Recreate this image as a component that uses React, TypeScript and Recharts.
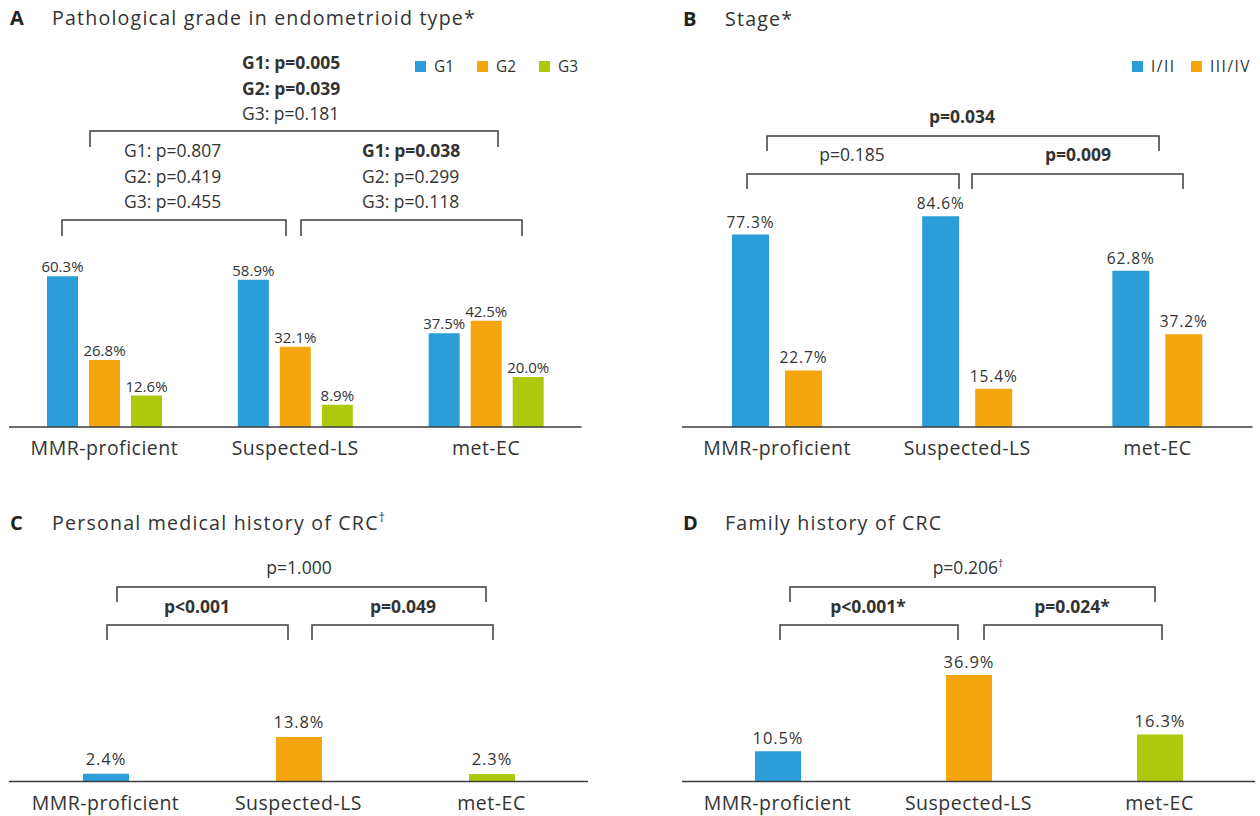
import React from "react";
import { BarChart, Bar, XAxis, YAxis, LabelList, Cell } from "recharts";

// ---- data ----
const groups = ["MMR-proficient", "Suspected-LS", "met-EC"];

// A: pathological grade in endometrioid type (%)
const gradeG1 = [60.3, 58.9, 37.5];
const gradeG2 = [26.8, 32.1, 42.5];
const gradeG3 = [12.6, 8.9, 20.0];

// B: stage (%)
const stageEarly = [77.3, 84.6, 62.8];
const stageLate = [22.7, 15.4, 37.2];

// C / D: CRC history (%)
const personalCrc = [2.4, 13.8, 2.3];
const familyCrc = [10.5, 36.9, 16.3];

// p-value annotations
const gradePAll = ["G1: p=0.005", "G2: p=0.039", "G3: p=0.181"];
const gradePAllBold = [true, true, false];
const gradePLeft = ["G1: p=0.807", "G2: p=0.419", "G3: p=0.455"];
const gradePRight = ["G1: p=0.038", "G2: p=0.299", "G3: p=0.118"];
const gradePRightBold = [true, false, false];
const stageP = { all: "p=0.034", left: "p=0.185", right: "p=0.009" };
const personalP = { all: "p=1.000", left: "p<0.001", right: "p=0.049" };
const familyP = { all: "p=0.206", left: "p<0.001*", right: "p=0.024*" };

// ---- styles ----
const FONT = '"Open Sans", "Noto Sans", sans-serif';
const INK = "#333333";
const LINE = "#3d3d3d";
const BLUE = "#2b9ed9";
const ORANGE = "#f5a50e";
const GREEN = "#aec90b";

const gradeData = groups.map((group, i) => ({
  group,
  g1: gradeG1[i],
  g2: gradeG2[i],
  g3: gradeG3[i],
}));
const stageData = groups.map((group, i) => ({
  group,
  early: stageEarly[i],
  late: stageLate[i],
}));
const personalData = groups.map((group, i) => ({ group, value: personalCrc[i] }));
const familyData = groups.map((group, i) => ({ group, value: familyCrc[i] }));

type Series = { key: string; color: string };

const GroupTick = (props: any) => {
  const { x, y, payload } = props;
  return (
    <text
      x={x}
      y={y + 28}
      textAnchor="middle"
      fontFamily={FONT}
      fontSize={19.5}
      letterSpacing={0.5}
      fill={INK}
    >
      {payload.value}
    </text>
  );
};

const valueLabel = (offset: number, size: number, spacing: number) => (p: any) => {
  const vb = p.viewBox || p;
  const x = Number(vb.x) + Number(vb.width) / 2;
  const y = Number(vb.y) - offset;
  return (
    <text
      x={x}
      y={y}
      textAnchor="middle"
      fontFamily={FONT}
      fontSize={size}
      letterSpacing={spacing}
      fill={INK}
    >
      {Number(p.value).toFixed(1)}%
    </text>
  );
};

type PanelProps = {
  data: any[];
  series: Series[];
  plotLeft: number;
  plotRight: number;
  baseline: number;
  pxPerUnit: number;
  yMax: number;
  barSize: number;
  barGap: number;
  labelOffset: number;
  labelSize: number;
  labelSpacing: number;
  cellColors?: string[];
};

function BarPanel(props: PanelProps) {
  const {
    data, series, plotLeft, plotRight, baseline, pxPerUnit, yMax,
    barSize, barGap, labelOffset, labelSize, labelSpacing, cellColors,
  } = props;
  const plotHeight = pxPerUnit * yMax;
  const axisHeight = 40;
  return (
    <div style={{ position: "absolute", left: 0, top: 0 }}>
      <BarChart
        width={1260}
        height={baseline + axisHeight}
        data={data}
        barGap={barGap}
        margin={{ top: baseline - plotHeight, right: 1260 - plotRight, bottom: 0, left: plotLeft }}
      >
        <XAxis
          dataKey="group"
          height={axisHeight}
          interval={0}
          tickLine={false}
          tickSize={0}
          tickMargin={0}
          axisLine={{ stroke: LINE, strokeWidth: 1.6 }}
          tick={GroupTick}
        />
        <YAxis hide domain={[0, yMax]} />
        {series.map((s) => (
          <Bar key={s.key} dataKey={s.key} fill={s.color} barSize={barSize} isAnimationActive={false}>
            {cellColors && cellColors.map((c, i) => <Cell key={i} fill={c} />)}
            <LabelList dataKey={s.key} content={valueLabel(labelOffset, labelSize, labelSpacing)} />
          </Bar>
        ))}
      </BarChart>
    </div>
  );
}

// square bracket hanging down from y
const Bracket = ({ x1, x2, y, drop }: { x1: number; x2: number; y: number; drop: number }) => (
  <path d={`M${x1},${y + drop}V${y}H${x2}V${y + drop}`} fill="none" stroke={LINE} strokeWidth={1.5} />
);

const PText = ({ x, y, text, bold, anchor = "start", size = 17.5, dagger = false }: any) => (
  <text
    x={x}
    y={y}
    textAnchor={anchor}
    fontFamily={FONT}
    fontSize={size}
    fontWeight={bold ? 700 : 400}
    fill={INK}
  >
    {text}
    {dagger && (
      <tspan fontSize={size * 0.6} dy={-7}>
        †
      </tspan>
    )}
  </text>
);

const Title = ({ x, y, letter, text, dagger = false }: any) => (
  <g fontFamily={FONT} fill="#222">
    <text x={x} y={y} fontSize={20} fontWeight={700}>
      {letter}
    </text>
    <text x={x + 42} y={y} fontSize={19.6} letterSpacing={1.2} fill={INK}>
      {text}
      {dagger && (
        <tspan fontSize={12} dy={-8}>
          †
        </tspan>
      )}
    </text>
  </g>
);

const LegendItem = ({ x, y, color, label, spacing = 0 }: any) => (
  <g>
    <rect x={x} y={y - 11} width={11} height={11} fill={color} />
    <text x={x + 19} y={y} fontFamily={FONT} fontSize={15.4} letterSpacing={spacing} fill={INK}>
      {label}
    </text>
  </g>
);

export default function App() {
  return (
    <div
      style={{
        position: "absolute",
        left: 0,
        top: 0,
        width: 1260,
        height: 816,
        overflow: "hidden",
        background: "#fff",
      }}
    >
      <BarPanel
        data={gradeData}
        series={[
          { key: "g1", color: BLUE },
          { key: "g2", color: ORANGE },
          { key: "g3", color: GREEN },
        ]}
        plotLeft={9}
        plotRight={581.5}
        baseline={427}
        pxPerUnit={2.5}
        yMax={100}
        barSize={31}
        barGap={11}
        labelOffset={4}
        labelSize={15}
        labelSpacing={0}
      />
      <BarPanel
        data={stageData}
        series={[
          { key: "early", color: BLUE },
          { key: "late", color: ORANGE },
        ]}
        plotLeft={682}
        plotRight={1252.5}
        baseline={427}
        pxPerUnit={2.49}
        yMax={100}
        barSize={37}
        barGap={16}
        labelOffset={7}
        labelSize={15.5}
        labelSpacing={0.9}
      />
      <BarPanel
        data={personalData}
        series={[{ key: "value", color: BLUE }]}
        cellColors={[BLUE, ORANGE, GREEN]}
        plotLeft={9}
        plotRight={588}
        baseline={781.5}
        pxPerUnit={3.23}
        yMax={50}
        barSize={46}
        barGap={0}
        labelOffset={9}
        labelSize={16.5}
        labelSpacing={0.9}
      />
      <BarPanel
        data={familyData}
        series={[{ key: "value", color: BLUE }]}
        cellColors={[BLUE, ORANGE, GREEN]}
        plotLeft={682}
        plotRight={1255}
        baseline={781.5}
        pxPerUnit={2.886}
        yMax={50}
        barSize={46}
        barGap={0}
        labelOffset={7.5}
        labelSize={16.5}
        labelSpacing={0.9}
      />

      <svg
        width={1260}
        height={816}
        style={{ position: "absolute", left: 0, top: 0, pointerEvents: "none" }}
      >
        {/* A */}
        <Title x={10} y={25} letter="A" text="Pathological grade in endometrioid type*" />
        <LegendItem x={415} y={72} color={BLUE} label="G1" />
        <LegendItem x={477} y={72} color={ORANGE} label="G2" />
        <LegendItem x={539} y={72} color={GREEN} label="G3" />
        {gradePAll.map((t, i) => (
          <PText key={t} x={242} y={69 + i * 25.5} text={t} bold={gradePAllBold[i]} />
        ))}
        <Bracket x1={90} x2={498} y={131} drop={16} />
        {gradePLeft.map((t, i) => (
          <PText key={t} x={124} y={157 + i * 25.5} text={t} />
        ))}
        {gradePRight.map((t, i) => (
          <PText key={t} x={362} y={157 + i * 25.5} text={t} bold={gradePRightBold[i]} />
        ))}
        <Bracket x1={62} x2={286} y={220} drop={16} />
        <Bracket x1={301} x2={522} y={220} drop={16} />

        {/* B */}
        <Title x={683} y={26} letter="B" text="Stage*" />
        <LegendItem x={1132} y={72} color={BLUE} label="I/II" spacing={1.5} />
        <LegendItem x={1191} y={72} color={ORANGE} label="III/IV" spacing={1.5} />
        <PText x={962} y={123} text={stageP.all} bold anchor="middle" />
        <Bracket x1={767} x2={1159} y={136} drop={15} />
        <PText x={852} y={161} text={stageP.left} anchor="middle" />
        <PText x={1078} y={161} text={stageP.right} bold anchor="middle" />
        <Bracket x1={747} x2={959} y={174} drop={15} />
        <Bracket x1={972} x2={1183} y={174} drop={15} />

        {/* C */}
        <Title x={10} y={529.5} letter="C" text="Personal medical history of CRC" dagger />
        <PText x={299} y={574} text={personalP.all} anchor="middle" />
        <Bracket x1={117} x2={486} y={587} drop={15} />
        <PText x={197} y={612.5} text={personalP.left} bold anchor="middle" />
        <PText x={403} y={612.5} text={personalP.right} bold anchor="middle" />
        <Bracket x1={107} x2={288} y={625} drop={15} />
        <Bracket x1={312} x2={493} y={625} drop={15} />

        {/* D */}
        <Title x={683} y={530} letter="D" text="Family history of CRC" />
        <PText x={968} y={574} text={familyP.all} anchor="middle" dagger />
        <Bracket x1={790} x2={1155} y={587} drop={15} />
        <PText x={868} y={612.5} text={familyP.left} bold anchor="middle" />
        <PText x={1072} y={612.5} text={familyP.right} bold anchor="middle" />
        <Bracket x1={780} x2={958} y={625} drop={15} />
        <Bracket x1={984} x2={1162} y={625} drop={15} />
      </svg>
    </div>
  );
}
